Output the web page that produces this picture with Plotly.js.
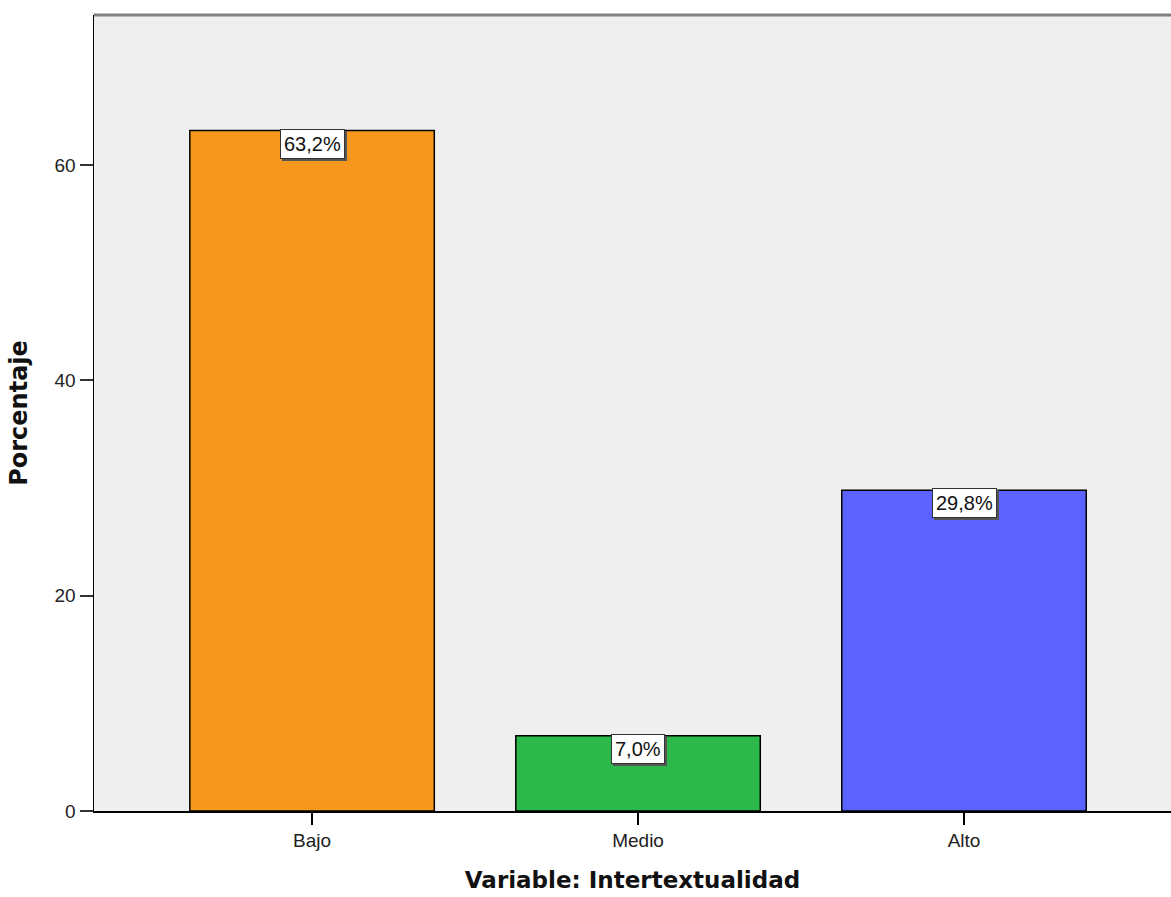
<!DOCTYPE html>
<html><head><meta charset="utf-8">
<script src="https://cdn.plot.ly/plotly-3.0.1.min.js"></script>
<style>html,body{margin:0;padding:0;background:#fff;}</style>
</head><body>
<div id="chart" style="width:1171px;height:897px;"></div>
<script>
const categories = ["Bajo", "Medio", "Alto"];
const values = [63.2, 7.0, 29.8];
const labels = ["63,2%", "7,0%", "29,8%"];
const colors = ["#F7981D", "#2DB84B", "#5B62FF"];
const yTicks = [0, 20, 40, 60];

const trace = {
  type: "bar",
  x: categories,
  y: values,
  width: 0.75,
  marker: {color: colors, line: {color: "#000000", width: 1.5}},
  hoverinfo: "none"
};

const labelFont = "Liberation Sans, Arial, sans-serif";
const shadows = categories.map((c, i) => ({
  x: c, y: values[i], xref: "x", yref: "y",
  text: labels[i], showarrow: false,
  yanchor: "top", xanchor: "center", yshift: 0, xshift: 2,
  font: {family: labelFont, size: 20, color: "#555"},
  bgcolor: "#555555", bordercolor: "#555555", borderwidth: 1, borderpad: 3
}));
const boxes = categories.map((c, i) => ({
  x: c, y: values[i], xref: "x", yref: "y",
  text: labels[i], showarrow: false,
  yanchor: "top", xanchor: "center", yshift: 2,
  font: {family: labelFont, size: 20, color: "#111"},
  bgcolor: "#ffffff", bordercolor: "#333333", borderwidth: 1, borderpad: 3
}));

const layout = {
  width: 1171, height: 897,
  margin: {l: 94, r: 0, t: 15, b: 86},
  paper_bgcolor: "#ffffff",
  plot_bgcolor: "#EFEFEF",
  showlegend: false,
  font: {family: "Liberation Sans, Arial, sans-serif", color: "#222"},
  xaxis: {
    type: "category",
    range: [-0.669, 2.635],
    showgrid: false, zeroline: false,
    showline: true, linecolor: "#000", linewidth: 1.5,
    ticks: "outside", ticklen: 12, tickcolor: "#000", tickwidth: 1.5,
    tickfont: {size: 19, color: "#222"},
    title: {text: "<b>Variable: Intertextualidad</b>", font: {family: "DejaVu Sans, sans-serif", size: 23, color: "#111"}, standoff: 21}
  },
  yaxis: {
    range: [0, 73.93],
    tickvals: yTicks,
    showgrid: false, zeroline: false,
    showline: true, linecolor: "#000", linewidth: 1.5,
    ticks: "outside", ticklen: 13, tickcolor: "#333", tickwidth: 2,
    tickfont: {size: 19, color: "#222"},
    title: {text: "<b>Porcentaje</b>", font: {family: "DejaVu Sans, sans-serif", size: 24, color: "#111"}, standoff: 20}
  },
  shapes: [{
    type: "line", xref: "paper", yref: "paper",
    x0: 0, x1: 1, y0: 1, y1: 1,
    line: {color: "#808080", width: 3}
  }],
  annotations: shadows.concat(boxes)
};

Plotly.newPlot("chart", [trace], layout, {displayModeBar: false, staticPlot: true});
</script>
</body></html>
